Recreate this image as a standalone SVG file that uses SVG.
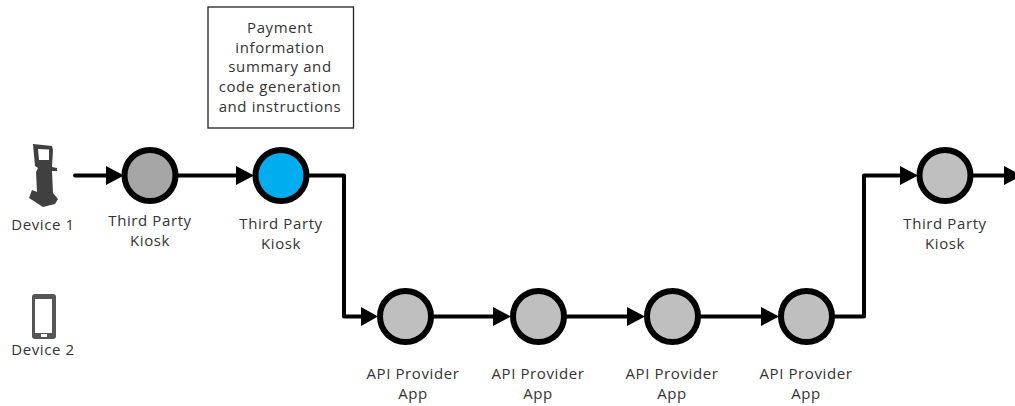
<svg xmlns="http://www.w3.org/2000/svg" width="1015" height="406" viewBox="0 0 1015 406">
<style>
text{font-family:"Open Sans","Noto Sans","DejaVu Sans",sans-serif;font-size:15px;letter-spacing:.6px;fill:#333;text-anchor:middle}
.n{stroke:#000;stroke-width:6px;fill:#bfbfbf}
.c{fill:none;stroke:#000;stroke-width:4px;stroke-linejoin:round;stroke-linecap:round}
.a{fill:#000}
</style>
<rect width="1015" height="406" fill="#fff"/>
<g id="connectors">
<path class="c" d="M75 175.500H110"/><path class="a" d="M106 166L124 175.500L106 185Z"/>
<path class="c" d="M177 175.500H240"/><path class="a" d="M236 166L254 175.500L236 185Z"/>
<path class="c" d="M308 175.500H344V316.500H365"/><path class="a" d="M361 307L378 316.500L361 326Z"/>
<path class="c" d="M433 316.500H497"/><path class="a" d="M493 307L511 316.500L493 326Z"/>
<path class="c" d="M566 316.500H630"/><path class="a" d="M627 307L645 316.500L627 326Z"/>
<path class="c" d="M700 316.500H764"/><path class="a" d="M761 307L779 316.500L761 326Z"/>
<path class="c" d="M834 316.500H864V175.500H905"/><path class="a" d="M900 166L918 175.500L900 185Z"/>
<path class="c" d="M973 175.500H1006"/><path class="a" d="M1004 166L1022 175.500L1004 185Z"/>
</g>
<g id="device1">
<path d="M33 144L52 146L53 150L52 167L57 168L57 171L52 171L53 193L58 199L55 204L43 207L29 198L32 190L37 192L36 172L38 168L35 166Z" fill="#404040"/>
<path d="M38 149L49 149.500L49 160L39 160Z" fill="#fff"/>
<text x="43" y="230">Device 1</text>
</g>
<g id="device2">
<rect x="32" y="294" width="24" height="45" rx="3" fill="#555"/>
<rect x="35" y="299" width="17" height="34" fill="#fff"/>
<rect x="41" y="334" width="6" height="3" fill="#fff"/>
<text x="43" y="355">Device 2</text>
</g>
<g id="note">
<rect x="208" y="7" width="145.500" height="121" fill="#fff" stroke="#222" stroke-width="1.300"/>
<text x="280" y="33">Payment</text>
<text x="280" y="53">information</text>
<text x="280" y="72">summary and</text>
<text x="280" y="92">code generation</text>
<text x="280" y="112">and instructions</text>
</g>
<g id="kiosk1">
<circle class="n" cx="150" cy="175.500" r="25.500" style="fill:#a6a6a6"/>
<text x="150" y="226">Third Party</text><text x="150" y="246">Kiosk</text>
</g>
<g id="kiosk2">
<circle class="n" cx="281" cy="175.500" r="25.500" style="fill:#00aeef"/>
<text x="281" y="229">Third Party</text><text x="281" y="249">Kiosk</text>
</g>
<g id="api1">
<circle class="n" cx="405.500" cy="316.500" r="25.500"/>
<text x="413" y="379">API Provider</text><text x="413" y="399">App</text>
</g>
<g id="api2">
<circle class="n" cx="538.500" cy="316.500" r="25.500"/>
<text x="538" y="379">API Provider</text><text x="538" y="399">App</text>
</g>
<g id="api3">
<circle class="n" cx="672.500" cy="316.500" r="25.500"/>
<text x="672" y="379">API Provider</text><text x="672" y="399">App</text>
</g>
<g id="api4">
<circle class="n" cx="806.500" cy="316.500" r="25.500"/>
<text x="806" y="379">API Provider</text><text x="806" y="399">App</text>
</g>
<g id="kiosk3">
<circle class="n" cx="945" cy="175.500" r="25.500"/>
<text x="945" y="229">Third Party</text><text x="945" y="249">Kiosk</text>
</g>
</svg>
